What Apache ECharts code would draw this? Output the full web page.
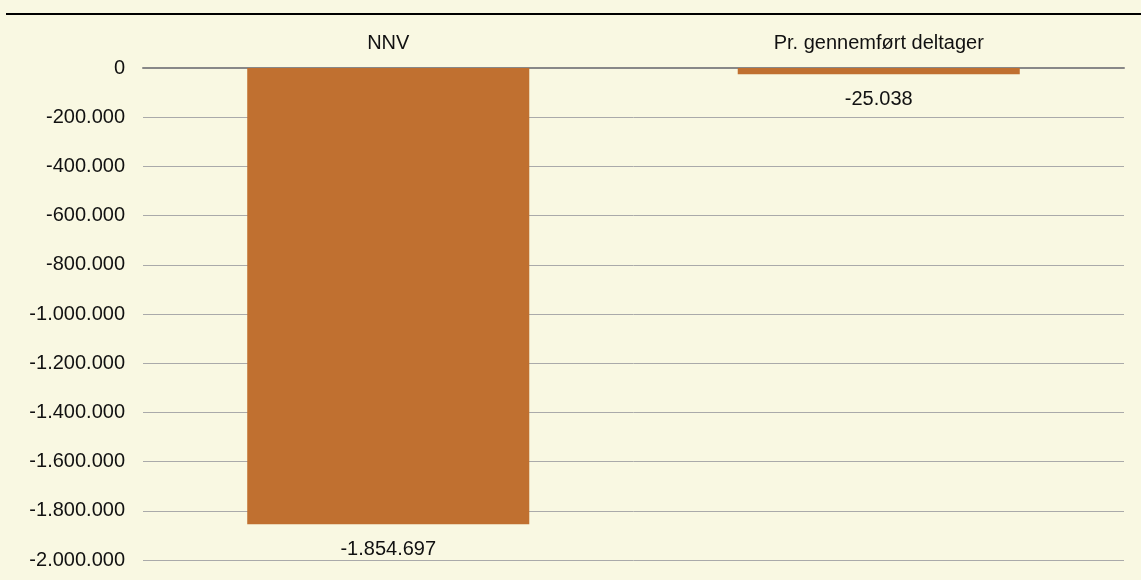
<!DOCTYPE html>
<html><head><meta charset="utf-8">
<script src="https://cdn.jsdelivr.net/npm/echarts@6/dist/echarts.min.js"></script>
<style>html,body{margin:0;padding:0;background:#F9F8E2;}#c{width:1141px;height:580px;}</style>
</head><body><div id="c"></div>
<script>
var categories = ['NNV', 'Pr. gennemført deltager'];
var values = [-1854697, -25038];
var yTicks = [0, -200000, -400000, -600000, -800000, -1000000, -1200000, -1400000, -1600000, -1800000, -2000000];

function fmt(v) {
  var s = Math.abs(Math.round(v)).toString().replace(/\B(?=(\d{3})+(?!\d))/g, '.');
  return (v < 0 ? '-' : '') + s;
}
var font = 'Liberation Sans, Arial, Helvetica, sans-serif';
var fs = 20;
var chart = echarts.init(document.getElementById('c'), null, {renderer: 'canvas'});
chart.setOption({
  backgroundColor: '#F9F8E2',
  animation: false,
  grid: {left: 143, right: 17, top: 68, bottom: 20, containLabel: false},
  graphic: [{type: 'line', shape: {x1: 6, y1: 14, x2: 1141, y2: 14}, style: {stroke: '#000', lineWidth: 2}}],
  xAxis: {
    type: 'category', position: 'top', data: categories,
    axisLine: {show: true, lineStyle: {color: '#888888', width: 2}},
    axisTick: {show: false},
    axisLabel: {color: '#111', fontSize: fs, fontFamily: font, margin: 15}
  },
  yAxis: {
    type: 'value', min: yTicks[yTicks.length - 1], max: yTicks[0], interval: 200000,
    axisLine: {show: false}, axisTick: {show: false},
    axisLabel: {color: '#111', fontSize: fs, fontFamily: font, margin: 18, formatter: fmt},
    splitLine: {lineStyle: {color: '#AAAAAA', width: 1}}
  },
  series: [{
    type: 'bar', data: values, barWidth: '57.5%',
    itemStyle: {color: '#C07030'},
    label: {show: true, position: 'bottom', distance: 15, color: '#111', fontSize: fs, fontFamily: font, formatter: function(p){return fmt(p.value);}}
  }]
});
</script></body></html>
